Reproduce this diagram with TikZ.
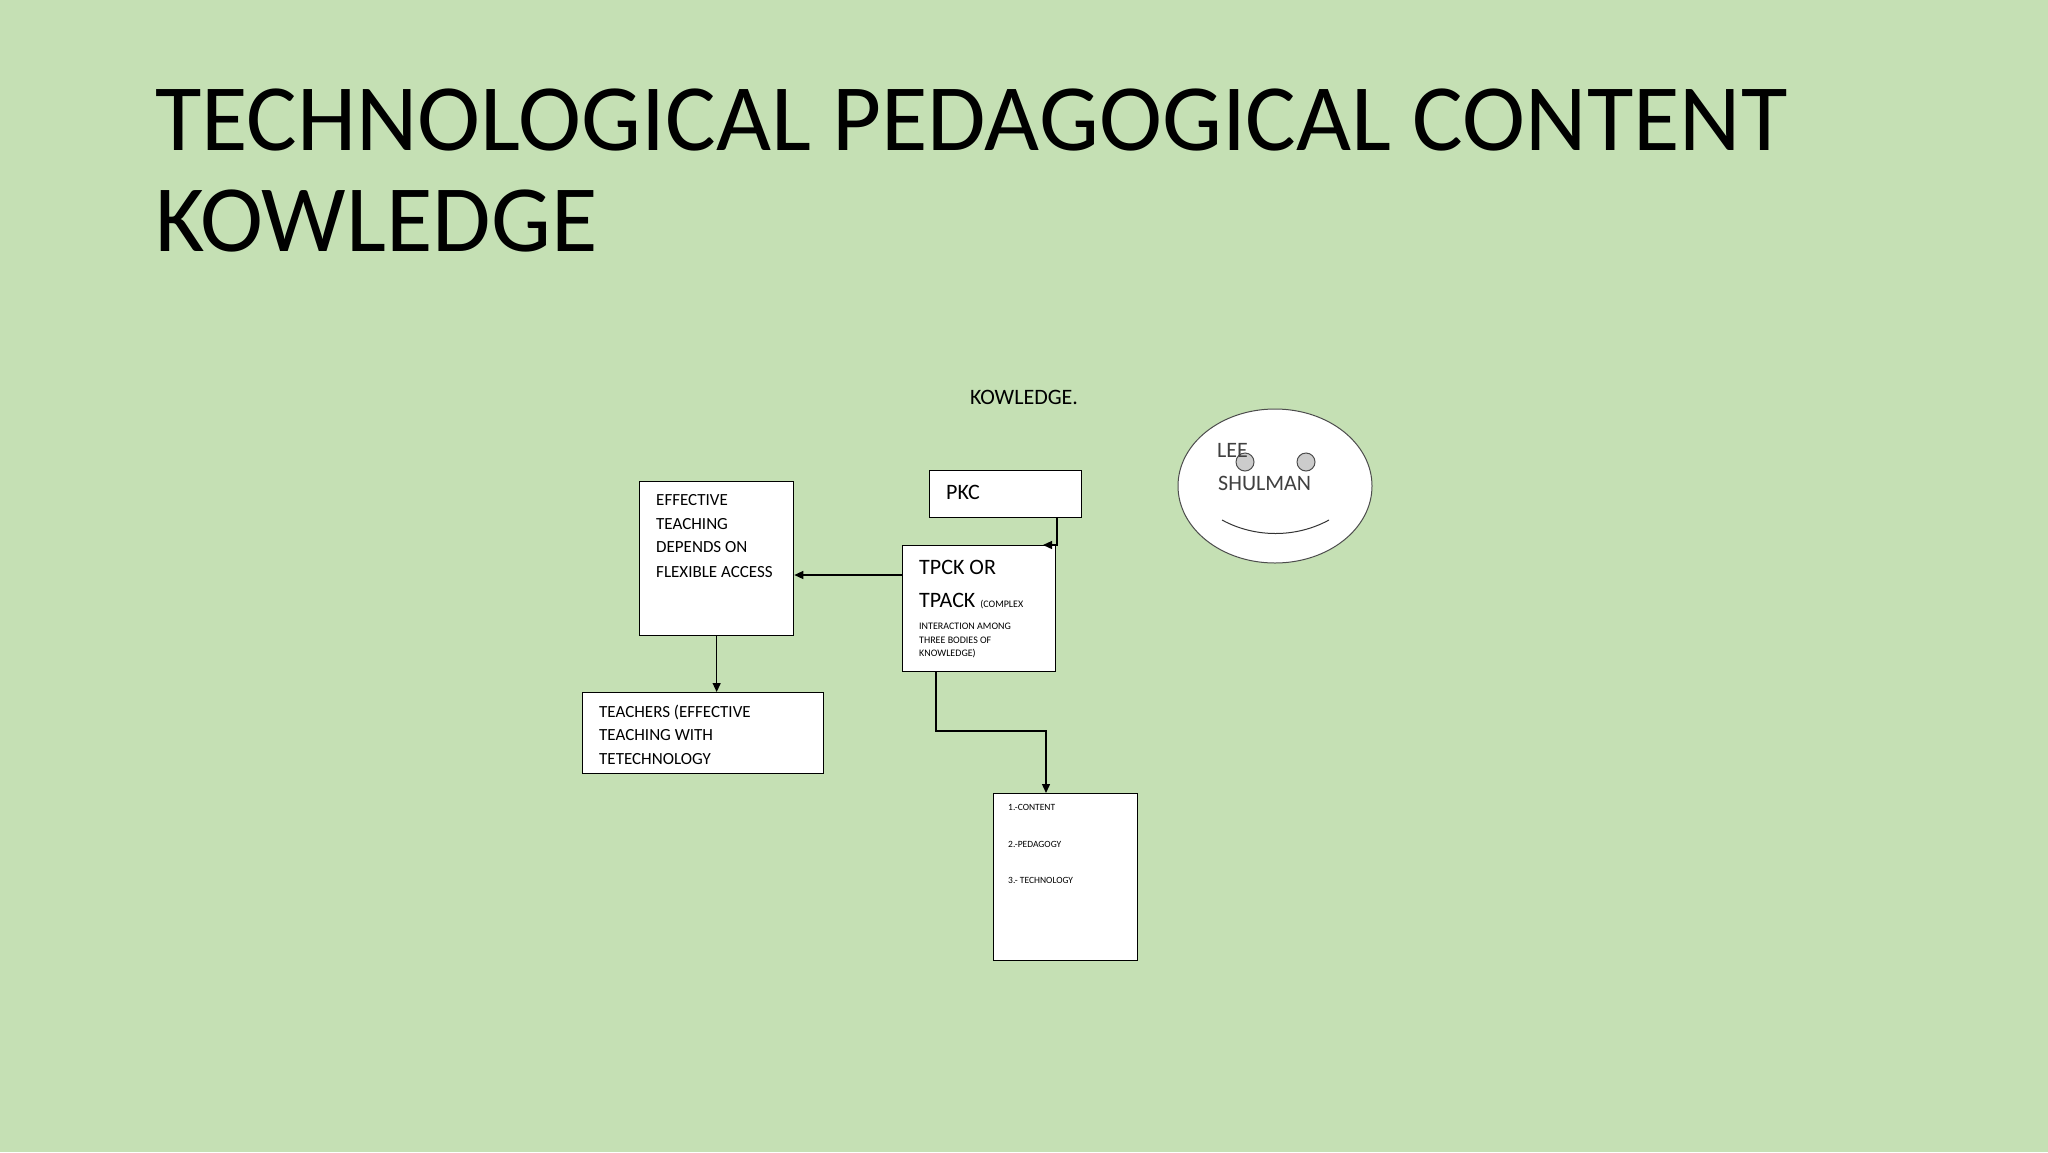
\documentclass[tikz,border=0pt]{standalone}
\usepackage{fontspec}
\setmainfont{Carlito}
\usetikzlibrary{arrows.meta,shapes.geometric}
\definecolor{bg}{HTML}{C5E0B4}
\begin{document}
\begin{tikzpicture}[x=1pt,y=-1pt,
  box/.style={draw=black,fill=white,line width=1.3pt,inner sep=0pt,anchor=north west},
  conn/.style={line width=1.3pt,-{Triangle[length=9pt,width=8pt]}},
  txt/.style={anchor=west,inner sep=0pt,font=\fontsize{17}{20}\selectfont}]
\fill[bg] (0,0) rectangle (2048,1152);
\useasboundingbox (0,0) rectangle (2048,1152);
\node[anchor=base west,inner sep=0pt,font=\fontsize{95}{100}\selectfont] (t1) at (155,150) {TECHNOLOGICAL PEDAGOGICAL CONTENT};
\node[anchor=base west,inner sep=0pt,font=\fontsize{95}{100}\selectfont] (t2) at (155,251) {KOWLEDGE};
\node[inner sep=0pt,font=\fontsize{22}{24}\selectfont] (kw) at (1024,397) {KOWLEDGE.};
% boxes
\node[box,minimum width=152pt,minimum height=47pt] (pkc) at (929,470) {};
\node[box,minimum width=154pt,minimum height=154pt] (eff) at (639,481) {};
\node[box,minimum width=153pt,minimum height=126pt] (tp) at (902,545) {};
\node[box,minimum width=241pt,minimum height=81pt] (tea) at (582,692) {};
\node[box,minimum width=144pt,minimum height=167pt] (lst) at (993,793) {};
% face
\node[draw=black!70,fill=white,line width=1pt,ellipse,minimum width=194pt,minimum height=154pt,inner sep=0pt] (face) at (1275,486) {};
\node[circle,draw=black!70,fill=black!20,line width=1pt,minimum size=18pt,inner sep=0pt] (e1) at (1245,462) {};
\node[circle,draw=black!70,fill=black!20,line width=1pt,minimum size=18pt,inner sep=0pt] (e2) at (1306,462) {};
\coordinate (s1) at (1222,520); \coordinate (s2) at (1329,520);
\draw[line width=1pt,black!80] (s1) .. controls (1255,538) and (1296,538) .. (s2);
\node[txt,font=\fontsize{22}{24}\selectfont,text=black!75] (lee) at (1217,450) {LEE};
\node[txt,font=\fontsize{22}{24}\selectfont,text=black!75] (shu) at (1218,483) {SHULMAN};
% texts
\node[txt] (ef1) at (656,500) {EFFECTIVE};
\node[txt] (ef2) at (656,524) {TEACHING};
\node[txt] (ef3) at (656,547) {DEPENDS ON};
\node[txt] (ef4) at (656,572) {FLEXIBLE ACCESS};
\node[txt,font=\fontsize{22}{24}\selectfont] (pk) at (946,492) {PKC};
\node[txt,font=\fontsize{22}{24}\selectfont] (tp1) at (919,567) {TPCK OR};
\node[anchor=base west,inner sep=0pt,font=\fontsize{22}{24}\selectfont] (tp2) at (919,607) {TPACK \fontsize{10}{12}\selectfont (COMPLEX};
\node[txt,font=\fontsize{10}{12}\selectfont] (tp3) at (919,626) {INTERACTION AMONG};
\node[txt,font=\fontsize{10}{12}\selectfont] (tp4) at (919,640) {THREE BODIES OF};
\node[txt,font=\fontsize{10}{12}\selectfont] (tp5) at (919,654) {KNOWLEDGE)};
\node[txt] (te1) at (599,712) {TEACHERS (EFFECTIVE};
\node[txt] (te2) at (599,735) {TEACHING WITH};
\node[txt] (te3) at (599,759) {TETECHNOLOGY};
\node[txt,font=\fontsize{9.5}{11}\selectfont] (l1) at (1008,807) {1.-CONTENT};
\node[txt,font=\fontsize{9.5}{11}\selectfont] (l2) at (1008,844) {2.-PEDAGOGY};
\node[txt,font=\fontsize{9.5}{11}\selectfont] (l3) at (1008,880) {3.- TECHNOLOGY};
% connectors
\coordinate (a1) at (1057,517);
\coordinate (a1b) at (1057,545);
\coordinate (a1c) at (1043,545);
\draw[conn] (a1) -- (a1b) -- (a1c);
\coordinate (a2) at (902,575);
\draw[conn] (a2) -- (a2 -| eff.east);
\draw[conn] (eff.south) -- (tea.north -| eff.south);
\coordinate (a3) at (936,671);
\coordinate (a3b) at (936,731);
\coordinate (a4) at (1046,793);
\draw[conn] (a3) -- (a3b) -| (a4);
\end{tikzpicture}
\end{document}
